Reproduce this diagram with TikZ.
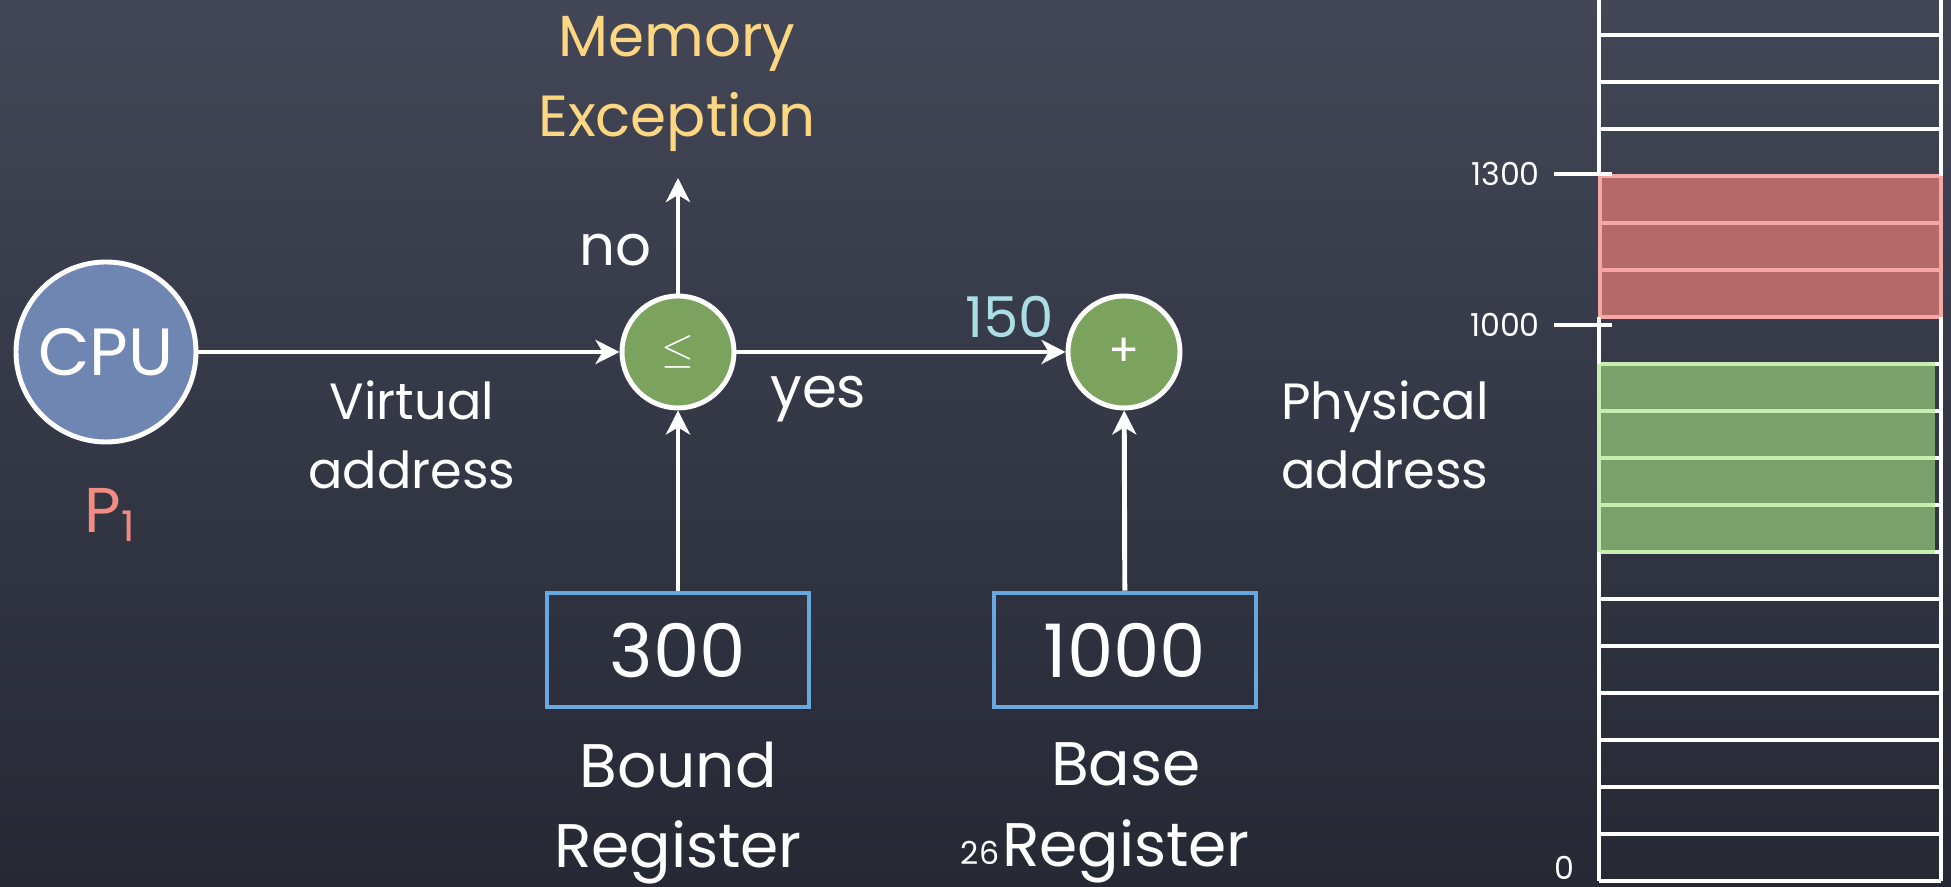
\documentclass[tikz,border=0pt]{standalone}
\usepackage{fontspec}
\setmainfont{Poppins}
\usetikzlibrary{shapes,arrows,arrows.meta}
\definecolor{boardtop}{RGB}{66,70,86}
\definecolor{boardbot}{RGB}{38,41,52}
\definecolor{cpublue}{RGB}{112,134,178}
\definecolor{opgreen}{RGB}{124,163,94}
\definecolor{excyellow}{RGB}{252,214,128}
\definecolor{offcyan}{RGB}{170,222,228}
\definecolor{procred}{RGB}{240,140,130}
\definecolor{regblue}{RGB}{104,168,222}
\definecolor{memred}{RGB}{181,106,106}
\definecolor{memredline}{RGB}{247,166,166}
\definecolor{memgreen}{RGB}{122,160,108}
\definecolor{memgreenline}{RGB}{198,238,176}
\begin{document}
\begin{tikzpicture}[>={Stealth[length=0.24cm,width=0.24cm,inset=0.07cm]},line width=1.4pt,
  op/.style={circle,draw=white,fill=opgreen,minimum size=1.12cm,inner sep=0pt,text=white,font=\fontsize{13}{13}\selectfont},
  reg/.style={rectangle,draw=regblue,minimum width=2.62cm,minimum height=1.14cm,text=white,font=\fontsize{21}{21}\selectfont},
  lbl/.style={text=white,align=center}]
\shade[top color=boardtop,bottom color=boardbot] (0,0) rectangle (19.51,8.87);
\useasboundingbox (0,0) rectangle (19.51,8.87);

\node[circle,draw=white,fill=cpublue,minimum size=1.80cm,text=white,font=\fontsize{19}{19}\selectfont] (cpu) at (1.06,5.35) {CPU};
\node[op] (le) at (6.78,5.35) {$\le$};
\node[op] (plus) at (11.24,5.35) {+};
\node[reg] (bound) at (6.78,2.37) {300};
\node[reg] (base) at (11.25,2.37) {1000};
\coordinate (exctip) at (6.78,7.09);

\node[text=procred,font=\fontsize{18}{18}\selectfont] (proc) at (1.10,3.72) {P\raisebox{-0.25ex}{\fontsize{12}{12}\selectfont 1}};
\node[lbl,font=\fontsize{14.5}{19.5}\selectfont] (virt) at (4.12,4.52) {Virtual\\address};
\node[lbl,font=\fontsize{14.5}{19.5}\selectfont] (phys) at (13.85,4.52) {Physical\\address};
\node[lbl,text=excyellow,font=\fontsize{16.5}{23}\selectfont] (exc) at (6.77,8.03) {Memory\\Exception};
\node[lbl,font=\fontsize{17.5}{23}\selectfont] (boundlbl) at (6.78,0.74) {Bound\\Register};
\node[lbl,font=\fontsize{17.5}{23}\selectfont] (baselbl) at (11.26,0.74) {Base\\Register};
\node[lbl,font=\fontsize{9}{9}\selectfont] (slide) at (9.80,0.34) {26};

\draw[white] (cpu) edge [->] (le)
(le) edge [->] node[lbl,font=\fontsize{16}{16}\selectfont,pos=0.06,anchor=north west,yshift=-0.10cm]{yes}
 node[text=offcyan,font=\fontsize{16}{16}\selectfont,pos=0.83,above]{150} (plus)
(le) edge [->] node[lbl,font=\fontsize{16}{16}\selectfont,left=0.12cm,pos=0.38]{no} (exctip)
(bound) edge [->] (le)
(base) edge [->] (plus);

% memory
\foreach \k in {0,...,18}
  \draw[white] (15.99,{0.06+0.47*\k}) -- (19.41,{0.06+0.47*\k});
\fill[memred] (16.00,5.70) rectangle (19.41,7.11);
\foreach \k in {12,...,15}
  \draw[memredline] (16.00,{0.06+0.47*\k}) -- (19.41,{0.06+0.47*\k});
\draw[memredline] (16.00,5.70) -- (16.00,7.11) (19.41,5.70) -- (19.41,7.11);
\fill[memgreen] (15.99,3.35) rectangle (19.35,5.23);
\foreach \k in {7,...,11}
  \draw[memgreenline] (15.99,{0.06+0.47*\k}) -- (19.35,{0.06+0.47*\k});
\draw[memgreenline] (15.99,3.35) -- (15.99,5.23);
\draw[white] (15.99,0.06) -- (15.99,3.35) (15.99,5.23) -- (15.99,5.70) (15.99,7.11) -- (15.99,8.87)
 (19.41,0.06) -- (19.41,5.70) (19.41,7.11) -- (19.41,8.87);

\node[text=white,font=\fontsize{9}{9}\selectfont,anchor=east] (m1300) at (15.54,7.13) {1300};
\node[text=white,font=\fontsize{9}{9}\selectfont,anchor=east] (m1000) at (15.54,5.62) {1000};
\node[text=white,font=\fontsize{9}{9}\selectfont] (m0) at (15.64,0.19) {0};
\draw[white] (m1300.east) -- ++(0.58,0);
\draw[white] (m1000.east) -- ++(0.58,0);
\end{tikzpicture}
\end{document}
